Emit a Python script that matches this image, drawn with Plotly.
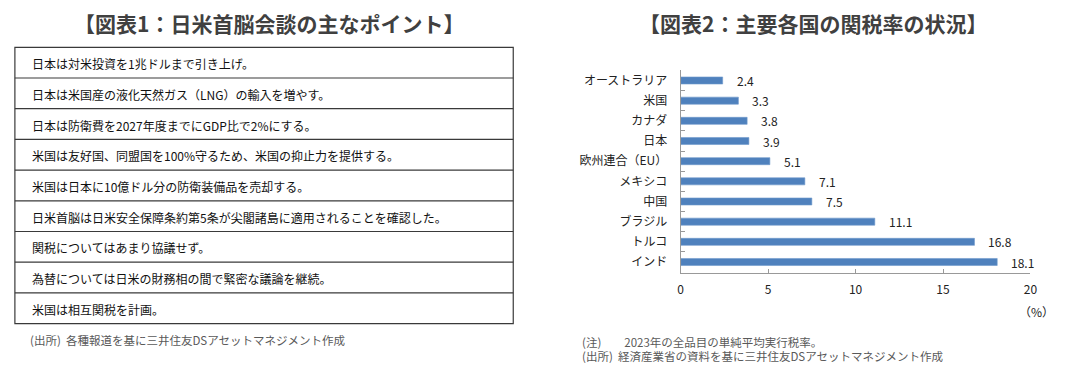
import plotly.graph_objects as go

W, H = 1084, 370

# ---- data ----
table_title = "【図表1：日米首脳会談の主なポイント】"
table_rows = [
    "日本は対米投資を1兆ドルまで引き上げ。",
    "日本は米国産の液化天然ガス（LNG）の輸入を増やす。",
    "日本は防衛費を2027年度までにGDP比で2%にする。",
    "米国は友好国、同盟国を100%守るため、米国の抑止力を提供する。",
    "米国は日本に10億ドル分の防衛装備品を売却する。",
    "日米首脳は日米安全保障条約第5条が尖閣諸島に適用されることを確認した。",
    "関税についてはあまり協議せず。",
    "為替については日米の財務相の間で緊密な議論を継続。",
    "米国は相互関税を計画。",
]
table_source = "(出所)  各種報道を基に三井住友DSアセットマネジメント作成"

chart_title = "【図表2：主要各国の関税率の状況】"
countries = ["オーストラリア", "米国", "カナダ", "日本", "欧州連合（EU）",
             "メキシコ", "中国", "ブラジル", "トルコ", "インド"]
rates = [2.4, 3.3, 3.8, 3.9, 5.1, 7.1, 7.5, 11.1, 16.8, 18.1]
x_ticks = [0, 5, 10, 15, 20]
unit_label = "（%）"
chart_notes = [
    "(注)　　2023年の全品目の単純平均実行税率。",
    "(出所)  経済産業省の資料を基に三井住友DSアセットマネジメント作成",
]

FONT = "Noto Sans CJK JP"


def px(x):
    return x / W


def py(y):
    return 1 - y / H


fig = go.Figure()

fig.add_trace(go.Bar(
    x=rates, y=countries, orientation="h",
    marker=dict(color="#4F81BD", line=dict(color="#6F98CB", width=0.6)),
    hoverinfo="x+y", showlegend=False,
))

annotations = []
shapes = []

# value labels
for c, v in zip(countries, rates):
    annotations.append(dict(
        x=v, y=c, xref="x", yref="y", text=f"{v:.1f}", showarrow=False,
        xanchor="left", xshift=12, font=dict(family=FONT, size=12, color="#222222"),
    ))

# table
tx0, tx1 = 12, 515
ty0 = 47.3
row_h = 30.7
n = len(table_rows)
shapes.append(dict(type="rect", xref="paper", yref="paper",
                   x0=px(tx0), x1=px(tx1), y0=py(ty0 + n * row_h), y1=py(ty0),
                   line=dict(color="#3a3a3a", width=1.2), fillcolor="rgba(0,0,0,0)"))
for i in range(1, n):
    yy = ty0 + i * row_h
    shapes.append(dict(type="line", xref="paper", yref="paper",
                       x0=px(tx0), x1=px(tx1), y0=py(yy), y1=py(yy),
                       line=dict(color="#3a3a3a", width=1.2)))
for i, t in enumerate(table_rows):
    yc = ty0 + (i + 0.5) * row_h + 1
    annotations.append(dict(
        x=px(27), y=py(yc), xref="paper", yref="paper", text=t, showarrow=False,
        xanchor="left", yanchor="middle", font=dict(family=FONT, size=12, color="#111111"),
    ))

# titles
annotations.append(dict(x=px(268), y=py(23), xref="paper", yref="paper", text=f"<b>{table_title}</b>",
                        showarrow=False, xanchor="center", yanchor="middle",
                        font=dict(family=FONT, size=21, color="#404040")))
annotations.append(dict(x=px(818), y=py(23), xref="paper", yref="paper", text=f"<b>{chart_title}</b>",
                        showarrow=False, xanchor="center", yanchor="middle",
                        font=dict(family=FONT, size=21, color="#404040")))

# source notes
annotations.append(dict(x=px(25), y=py(340), xref="paper", yref="paper", text=table_source,
                        showarrow=False, xanchor="left", yanchor="middle",
                        font=dict(family=FONT, size=11.5, color="#595959")))
for i, t in enumerate(chart_notes):
    annotations.append(dict(x=px(582), y=py(342 + i * 13.5), xref="paper", yref="paper", text=t,
                            showarrow=False, xanchor="left", yanchor="middle",
                            font=dict(family=FONT, size=11.5, color="#595959")))

annotations.append(dict(x=px(1043), y=py(311), xref="paper", yref="paper", text=unit_label,
                        showarrow=False, xanchor="center", yanchor="middle",
                        font=dict(family=FONT, size=12, color="#222222")))

fig.update_layout(
    width=W, height=H,
    margin=dict(l=0, r=0, t=0, b=0),
    paper_bgcolor="white", plot_bgcolor="white",
    bargap=0.65,
    font=dict(family=FONT, size=12, color="#222222"),
    xaxis=dict(domain=[px(684), px(1037)], range=[0, 20], tickvals=x_ticks,
               showgrid=False, zeroline=False, showline=True, linecolor="#999999", linewidth=1,
               ticks="inside", ticklen=4, tickcolor="#999999",
               ticklabelstandoff=6,
               tickfont=dict(family=FONT, size=12, color="#222222"), fixedrange=True),
    yaxis=dict(domain=[py(272.5), py(70)], autorange="reversed", type="category",
               categoryorder="array", categoryarray=countries,
               showgrid=False, zeroline=False, showline=True, linecolor="#999999", linewidth=1,
               ticks="inside", ticklen=4, tickcolor="#999999", tickson="boundaries",
               ticklabelstandoff=10,
               tickfont=dict(family=FONT, size=12, color="#222222"), fixedrange=True),
    annotations=annotations,
    shapes=shapes,
)

fig.write_html("out.html", config={"displayModeBar": False},
               post_script="document.body.style.margin='0';document.body.style.overflow='hidden';")
